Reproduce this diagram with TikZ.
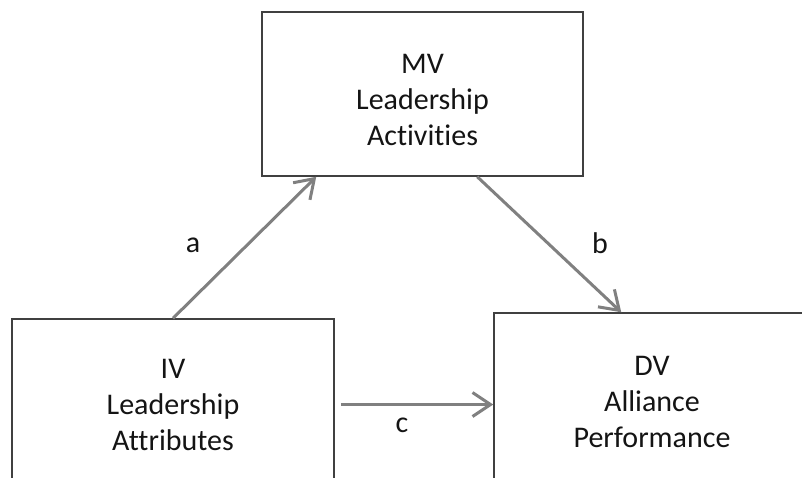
\documentclass[tikz,border=0pt]{standalone}
\usepackage{fontspec}
\setmainfont{Carlito}[Ligatures={NoCommon}]
\usetikzlibrary{arrows.meta,calc}
\definecolor{boxline}{gray}{0.25}
\definecolor{arrowgray}{gray}{0.5}
\definecolor{txt}{gray}{0.08}
\begin{document}
\begin{tikzpicture}[x=1pt,y=-1pt,
  varbox/.style={draw=boxline,line width=1.5pt,align=center,text=txt,
    font=\fontsize{30}{36}\selectfont,inner sep=0pt},
  link/.style={draw=arrowgray,line width=3pt,-{Straight Barb[length=18pt,width=24pt]}},
  lbl/.style={text=txt,font=\fontsize{30}{36}\selectfont,inner sep=0pt}]
\useasboundingbox (0,0) rectangle (802,477);
\clip (0,0) rectangle (802,477);
\node[varbox,minimum width=321pt,minimum height=164pt] (mv) at (422.5,94) {\rule{0pt}{31pt}MV\\Leadership\\Activities};
\node[varbox,minimum width=322pt,minimum height=171pt] (iv) at (173,404.5) {IV\\Leadership\\Attributes};
\node[varbox,minimum width=316pt,minimum height=177pt] (dv) at (652,401.5) {DV\\Alliance\\Performance};
\coordinate (aend) at ($(mv.south west)+(55,0)$);
\coordinate (bstart) at ($(mv.south west)+(216,0)$);
\coordinate (bend) at ($(dv.north west)+(128,0)$);
\coordinate (cstart) at ($(iv.east)+(6,0)$);
\draw[link] (iv.north) -- (aend);
\draw[link] (bstart) -- (bend);
\draw[link] (cstart) -- (cstart -| dv.west);
\node[lbl] (la) at (193,245) {a};
\node[lbl] (lb) at (600,243) {b};
\node[lbl] (lc) at (402,425) {c};
\end{tikzpicture}
\end{document}
